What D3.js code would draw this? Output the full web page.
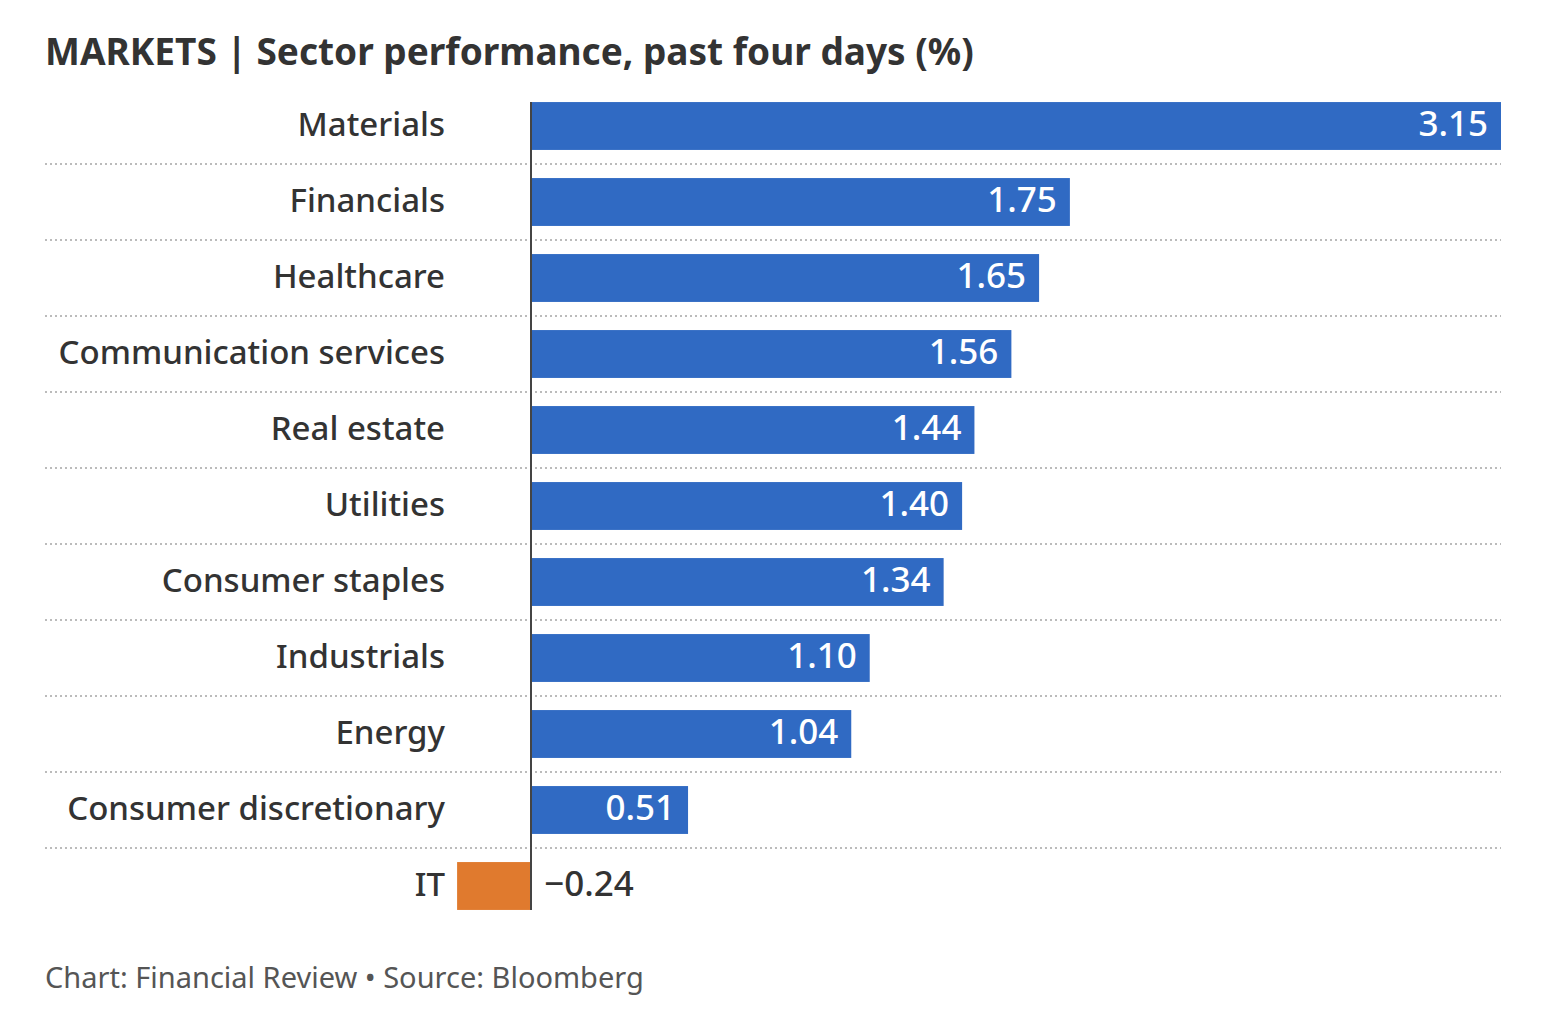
<!DOCTYPE html>
<html>
<head>
<meta charset="utf-8">
<script src="https://cdn.jsdelivr.net/npm/d3@7"></script>
<style>
body { margin: 0; background: #fff; }
text { font-family: "Noto Sans", sans-serif; }
</style>
</head>
<body>
<script>
// sector returns, past four days
var sectors = ["Materials", "Financials", "Healthcare", "Communication services", "Real estate",
  "Utilities", "Consumer staples", "Industrials", "Energy", "Consumer discretionary", "IT"];
var values = [3.15, 1.75, 1.65, 1.56, 1.44, 1.40, 1.34, 1.10, 1.04, 0.51, -0.24];

var width = 1560, height = 1018;
var svg = d3.select("body").append("svg")
  .attr("width", width)
  .attr("height", height);

var x = d3.scaleLinear()
  .domain([0, 3.15])
  .range([531, 1501]);

var y = d3.scaleBand()
  .domain(sectors)
  .range([88, 924])
  .paddingInner(0.37)
  .paddingOuter(0.185);

var fmt = function(v) { return (v < 0 ? "\u2212" : "") + Math.abs(v).toFixed(2); };

svg.append("text")
  .attr("x", 45)
  .attr("y", 65)
  .attr("fill", "#333")
  .style("font-size", "37px")
  .style("font-weight", "bold")
  .text("MARKETS | Sector performance, past four days (%)");

// dotted separators between rows
var step = y.step();
svg.selectAll(".sep")
  .data(sectors.slice(0, -1))
  .enter().append("line")
  .attr("class", "sep")
  .attr("x1", 45).attr("x2", 1501)
  .attr("y1", function(d) { return y(d) + y.bandwidth() + (step - y.bandwidth()) / 2; })
  .attr("y2", function(d) { return y(d) + y.bandwidth() + (step - y.bandwidth()) / 2; })
  .attr("stroke", "#bbb")
  .attr("stroke-width", 2)
  .attr("stroke-dasharray", "2,3");

svg.selectAll(".bar")
  .data(values)
  .enter().append("rect")
  .attr("class", "bar")
  .attr("x", function(d) { return x(Math.min(0, d)); })
  .attr("y", function(d, i) { return y(sectors[i]); })
  .attr("width", function(d) { return Math.abs(x(d) - x(0)); })
  .attr("height", y.bandwidth())
  .attr("fill", function(d) { return d < 0 ? "#E07A2E" : "#306AC3"; });

// zero line
svg.append("line")
  .attr("x1", x(0)).attr("x2", x(0))
  .attr("y1", y(sectors[0]))
  .attr("y2", y(sectors[sectors.length - 1]) + y.bandwidth())
  .attr("stroke", "#444")
  .attr("stroke-width", 2);

svg.selectAll(".cat")
  .data(sectors)
  .enter().append("text")
  .attr("class", "cat")
  .attr("x", 445)
  .attr("y", function(d) { return y(d) + y.bandwidth() / 2; })
  .attr("dy", "0.3em")
  .attr("text-anchor", "end")
  .attr("fill", "#333")
  .style("font-size", "33px")
  .style("font-weight", 500)
  .text(function(d) { return d; });

svg.selectAll(".val")
  .data(values)
  .enter().append("text")
  .attr("class", "val")
  .attr("x", function(d) { return d < 0 ? x(0) + 13 : x(d) - 13; })
  .attr("y", function(d, i) { return y(sectors[i]) + y.bandwidth() / 2; })
  .attr("dy", "0.28em")
  .attr("text-anchor", function(d) { return d < 0 ? "start" : "end"; })
  .attr("fill", function(d) { return d < 0 ? "#333" : "#fff"; })
  .style("font-size", "35px")
  .style("font-weight", 500)
  .text(function(d) { return fmt(d); });

svg.append("text")
  .attr("x", 45)
  .attr("y", 988)
  .attr("fill", "#555")
  .style("font-size", "29px")
  .text("Chart: Financial Review \u2022 Source: Bloomberg");
</script>
</body>
</html>
